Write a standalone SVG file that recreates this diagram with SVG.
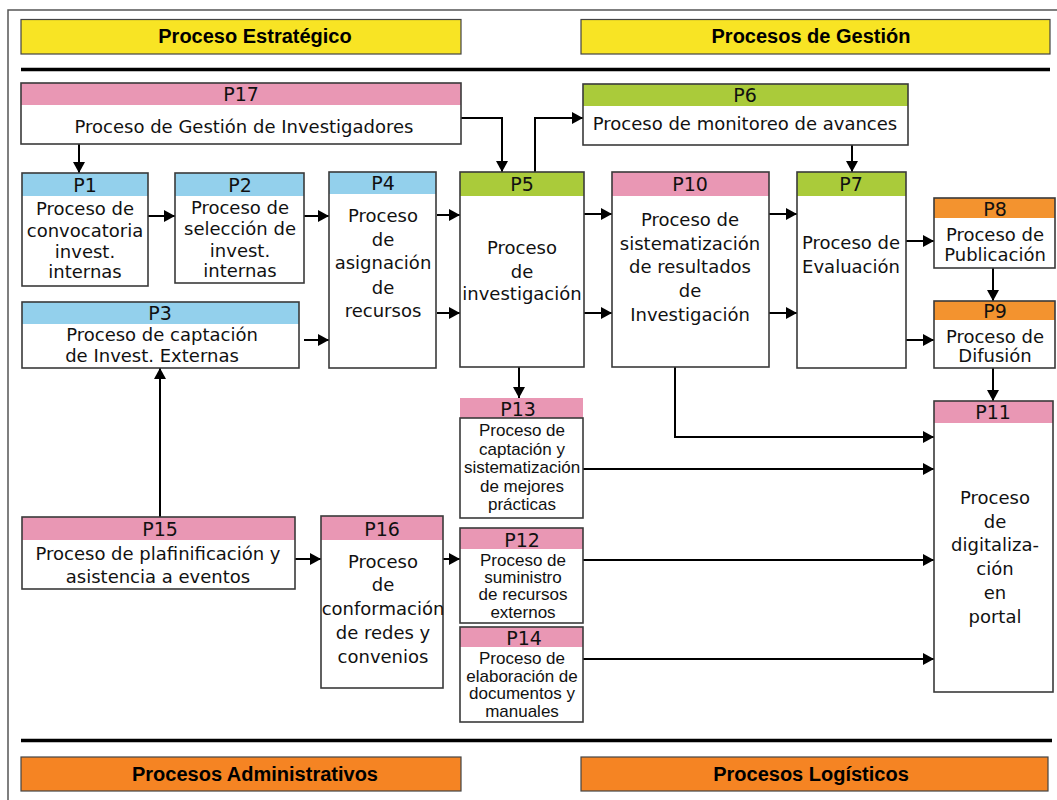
<svg xmlns="http://www.w3.org/2000/svg" width="1057" height="800" viewBox="0 0 1057 800">
<style>
.frame{fill:none;stroke:#555;stroke-width:1.5}
.rule{stroke:#000;stroke-width:3.5}
.band{stroke:#444;stroke-width:1.2}
.yel{fill:#F8E424}
.org{fill:#F58423}
.box{fill:none;stroke:#3a3a3a;stroke-width:1.6}
.wh{fill:#fff}
.pink{fill:#E997B4}
.blue{fill:#93D0EC}
.green{fill:#AACB3A}
.orng{fill:#F3932F}
text{font-family:"DejaVu Sans","Liberation Sans",sans-serif;text-anchor:middle;fill:#111}
.hd{font-family:"Liberation Sans",Arial,sans-serif;font-weight:bold;font-size:20px;fill:#000}
.lab{font-size:19px}
.t{font-size:18px}
.sm{font-family:"Liberation Sans",Arial,sans-serif;font-size:17px}
.c{fill:none;stroke:#000;stroke-width:2}
</style>
<defs>
<marker id="ah" markerUnits="userSpaceOnUse" markerWidth="11" markerHeight="12" refX="11" refY="6" orient="auto">
<path d="M0,0 L11,6 L0,12 z" fill="#000"/>
</marker>
</defs>
<rect width="1057" height="800" fill="#fff"/>
<rect class="frame" x="8" y="10" width="1070" height="820"/>
<g id="headers">
<rect class="band yel" x="21" y="19.5" width="440" height="34.5"/>
<text class="hd" x="255" y="43">Proceso Estratégico</text>
<rect class="band yel" x="581" y="19.5" width="469" height="34.5"/>
<text class="hd" x="811" y="43">Procesos de Gestión</text>
<line class="rule" x1="21" y1="69.5" x2="1050" y2="69.5"/>
<line class="rule" x1="21" y1="740.5" x2="1052" y2="740.5"/>
<rect class="band org" x="21" y="757" width="440" height="34"/>
<text class="hd" x="255" y="781">Procesos Administrativos</text>
<rect class="band org" x="581" y="757" width="467" height="34"/>
<text class="hd" x="811" y="781">Procesos Logísticos</text>
</g>
<g id="connectors">
<path class="c" d="M79,144 V173" marker-end="url(#ah)"/>
<path class="c" d="M461,118 H502 V172" marker-end="url(#ah)"/>
<path class="c" d="M535,172 V118 H583" marker-end="url(#ah)"/>
<path class="c" d="M852,145 V172" marker-end="url(#ah)"/>
<path class="c" d="M148,216 H175" marker-end="url(#ah)"/>
<path class="c" d="M304,216 H329" marker-end="url(#ah)"/>
<path class="c" d="M304,340 H329" marker-end="url(#ah)"/>
<path class="c" d="M437,215 H460" marker-end="url(#ah)"/>
<path class="c" d="M437,313 H460" marker-end="url(#ah)"/>
<path class="c" d="M584,214 H612" marker-end="url(#ah)"/>
<path class="c" d="M584,313 H612" marker-end="url(#ah)"/>
<path class="c" d="M769,214 H797" marker-end="url(#ah)"/>
<path class="c" d="M769,313 H797" marker-end="url(#ah)"/>
<path class="c" d="M906,241 H934" marker-end="url(#ah)"/>
<path class="c" d="M906,340 H934" marker-end="url(#ah)"/>
<path class="c" d="M993,268 V301" marker-end="url(#ah)"/>
<path class="c" d="M993,368 V401" marker-end="url(#ah)"/>
<path class="c" d="M675,367 V437 H934" marker-end="url(#ah)"/>
<path class="c" d="M583,469 H934" marker-end="url(#ah)"/>
<path class="c" d="M583,560 H934" marker-end="url(#ah)"/>
<path class="c" d="M583,659 H934" marker-end="url(#ah)"/>
<path class="c" d="M160,517 V368" marker-end="url(#ah)"/>
<path class="c" d="M295,559 H321" marker-end="url(#ah)"/>
<path class="c" d="M443,559 H460" marker-end="url(#ah)"/>
<path class="c" d="M519,367 V398" marker-end="url(#ah)"/>
</g>
<g id="P17">
<rect class="wh" x="21" y="83" width="440" height="61"/>
<rect class="pink" x="21" y="83" width="440" height="22"/>
<rect class="box" x="21" y="83" width="440" height="61"/>
<text class="lab" x="241" y="101">P17</text>
<text class="t" x="244" y="133">Proceso de Gestión de Investigadores</text>
</g>
<g id="P6">
<rect class="wh" x="583" y="84" width="325" height="61"/>
<rect class="green" x="583" y="84" width="325" height="22"/>
<rect class="box" x="583" y="84" width="325" height="61"/>
<text class="lab" x="745" y="102">P6</text>
<text class="t" x="745" y="130">Proceso de monitoreo de avances</text>
</g>
<g id="P1">
<rect class="wh" x="22" y="173" width="126" height="113"/>
<rect class="blue" x="22" y="173" width="126" height="23"/>
<rect class="box" x="22" y="173" width="126" height="113"/>
<text class="lab" x="85" y="192">P1</text>
<text class="t" x="85" y="215">Proceso de</text>
<text class="t" x="85" y="237">convocatoria</text>
<text class="t" x="85" y="258">invest.</text>
<text class="t" x="85" y="278">internas</text>
</g>
<g id="P2">
<rect class="wh" x="175" y="173" width="129" height="110"/>
<rect class="blue" x="175" y="173" width="129" height="23"/>
<rect class="box" x="175" y="173" width="129" height="110"/>
<text class="lab" x="240" y="192">P2</text>
<text class="t" x="240" y="214">Proceso de</text>
<text class="t" x="240" y="235">selección de</text>
<text class="t" x="240" y="257">invest.</text>
<text class="t" x="240" y="277">internas</text>
</g>
<g id="P4">
<rect class="wh" x="329" y="172" width="107" height="196"/>
<rect class="blue" x="329" y="172" width="107" height="22"/>
<rect class="box" x="329" y="172" width="107" height="196"/>
<text class="lab" x="383" y="190">P4</text>
<text class="t" x="383" y="222">Proceso</text>
<text class="t" x="383" y="246">de</text>
<text class="t" x="383" y="269">asignación</text>
<text class="t" x="383" y="294">de</text>
<text class="t" x="383" y="317">recursos</text>
</g>
<g id="P3">
<rect class="wh" x="22" y="302" width="277" height="66"/>
<rect class="blue" x="22" y="302" width="277" height="22"/>
<rect class="box" x="22" y="302" width="277" height="66"/>
<text class="lab" x="160" y="320">P3</text>
<text class="t" x="162" y="341">Proceso de captación</text>
<text class="t" x="152" y="362">de Invest. Externas</text>
</g>
<g id="P5">
<rect class="wh" x="460" y="172" width="124" height="195"/>
<rect class="green" x="460" y="172" width="124" height="24"/>
<rect class="box" x="460" y="172" width="124" height="195"/>
<text class="lab" x="522" y="191">P5</text>
<text class="t" x="522" y="254">Proceso</text>
<text class="t" x="522" y="278">de</text>
<text class="t" x="522" y="300">investigación</text>
</g>
<g id="P10">
<rect class="wh" x="612" y="172" width="157" height="195"/>
<rect class="pink" x="612" y="172" width="157" height="24"/>
<rect class="box" x="612" y="172" width="157" height="195"/>
<text class="lab" x="690" y="191">P10</text>
<text class="t" x="690" y="226">Proceso de</text>
<text class="t" x="690" y="250">sistematización</text>
<text class="t" x="690" y="273">de resultados</text>
<text class="t" x="690" y="297">de</text>
<text class="t" x="690" y="321">Investigación</text>
</g>
<g id="P7">
<rect class="wh" x="797" y="172" width="109" height="196"/>
<rect class="green" x="797" y="172" width="109" height="24"/>
<rect class="box" x="797" y="172" width="109" height="196"/>
<text class="lab" x="851" y="191">P7</text>
<text class="t" x="851" y="249">Proceso de</text>
<text class="t" x="851" y="273">Evaluación</text>
</g>
<g id="P8">
<rect class="wh" x="934" y="198" width="121" height="70"/>
<rect class="orng" x="934" y="198" width="121" height="20"/>
<rect class="box" x="934" y="198" width="121" height="70"/>
<text class="lab" x="995" y="216">P8</text>
<text class="t" x="995" y="241">Proceso de</text>
<text class="t" x="995" y="261">Publicación</text>
</g>
<g id="P9">
<rect class="wh" x="934" y="301" width="121" height="67"/>
<rect class="orng" x="934" y="301" width="121" height="19"/>
<rect class="box" x="934" y="301" width="121" height="67"/>
<text class="lab" x="995" y="318">P9</text>
<text class="t" x="995" y="343">Proceso de</text>
<text class="t" x="995" y="362">Difusión</text>
</g>
<g id="P11">
<rect class="wh" x="934" y="401" width="119" height="291"/>
<rect class="pink" x="934" y="401" width="119" height="22"/>
<rect class="box" x="934" y="401" width="119" height="291"/>
<text class="lab" x="993" y="419">P11</text>
<text class="t" x="995" y="504">Proceso</text>
<text class="t" x="995" y="528">de</text>
<text class="t" x="995" y="551">digitaliza-</text>
<text class="t" x="995" y="575">ción</text>
<text class="t" x="995" y="599">en</text>
<text class="t" x="995" y="623">portal</text>
</g>
<g id="P13">
<rect class="pink" x="460" y="398" width="123" height="20"/>
<rect class="wh" x="460" y="418" width="123" height="100"/>
<rect class="box" x="460" y="418" width="123" height="100"/>
<text class="lab" x="518" y="416">P13</text>
<text class="sm" x="522" y="436">Proceso de</text>
<text class="sm" x="522" y="455">captación y</text>
<text class="sm" x="522" y="473">sistematización</text>
<text class="sm" x="522" y="492">de mejores</text>
<text class="sm" x="522" y="510">prácticas</text>
</g>
<g id="P12">
<rect class="wh" x="460" y="528" width="123" height="95"/>
<rect class="pink" x="460" y="528" width="123" height="21"/>
<rect class="box" x="460" y="528" width="123" height="95"/>
<text class="lab" x="522" y="547">P12</text>
<text class="sm" x="523" y="566">Proceso de</text>
<text class="sm" x="523" y="583">suministro</text>
<text class="sm" x="523" y="600">de recursos</text>
<text class="sm" x="523" y="618">externos</text>
</g>
<g id="P14">
<rect class="wh" x="460" y="627" width="123" height="95"/>
<rect class="pink" x="460" y="627" width="123" height="20"/>
<rect class="box" x="460" y="627" width="123" height="95"/>
<text class="lab" x="524" y="645">P14</text>
<text class="sm" x="522" y="664">Proceso de</text>
<text class="sm" x="522" y="682">elaboración de</text>
<text class="sm" x="522" y="699">documentos y</text>
<text class="sm" x="522" y="717">manuales</text>
</g>
<g id="P15">
<rect class="wh" x="22" y="517" width="273" height="72"/>
<rect class="pink" x="22" y="517" width="273" height="23"/>
<rect class="box" x="22" y="517" width="273" height="72"/>
<text class="lab" x="160" y="536">P15</text>
<text class="t" x="158" y="560">Proceso de plafinificación y</text>
<text class="t" x="158" y="583">asistencia a eventos</text>
</g>
<g id="P16">
<rect class="wh" x="321" y="516" width="122" height="172"/>
<rect class="pink" x="321" y="516" width="122" height="24"/>
<rect class="box" x="321" y="516" width="122" height="172"/>
<text class="lab" x="382" y="536">P16</text>
<text class="t" x="383" y="568">Proceso</text>
<text class="t" x="383" y="591">de</text>
<text class="t" x="383" y="615">conformación</text>
<text class="t" x="383" y="639">de redes y</text>
<text class="t" x="383" y="663">convenios</text>
</g>
</svg>
